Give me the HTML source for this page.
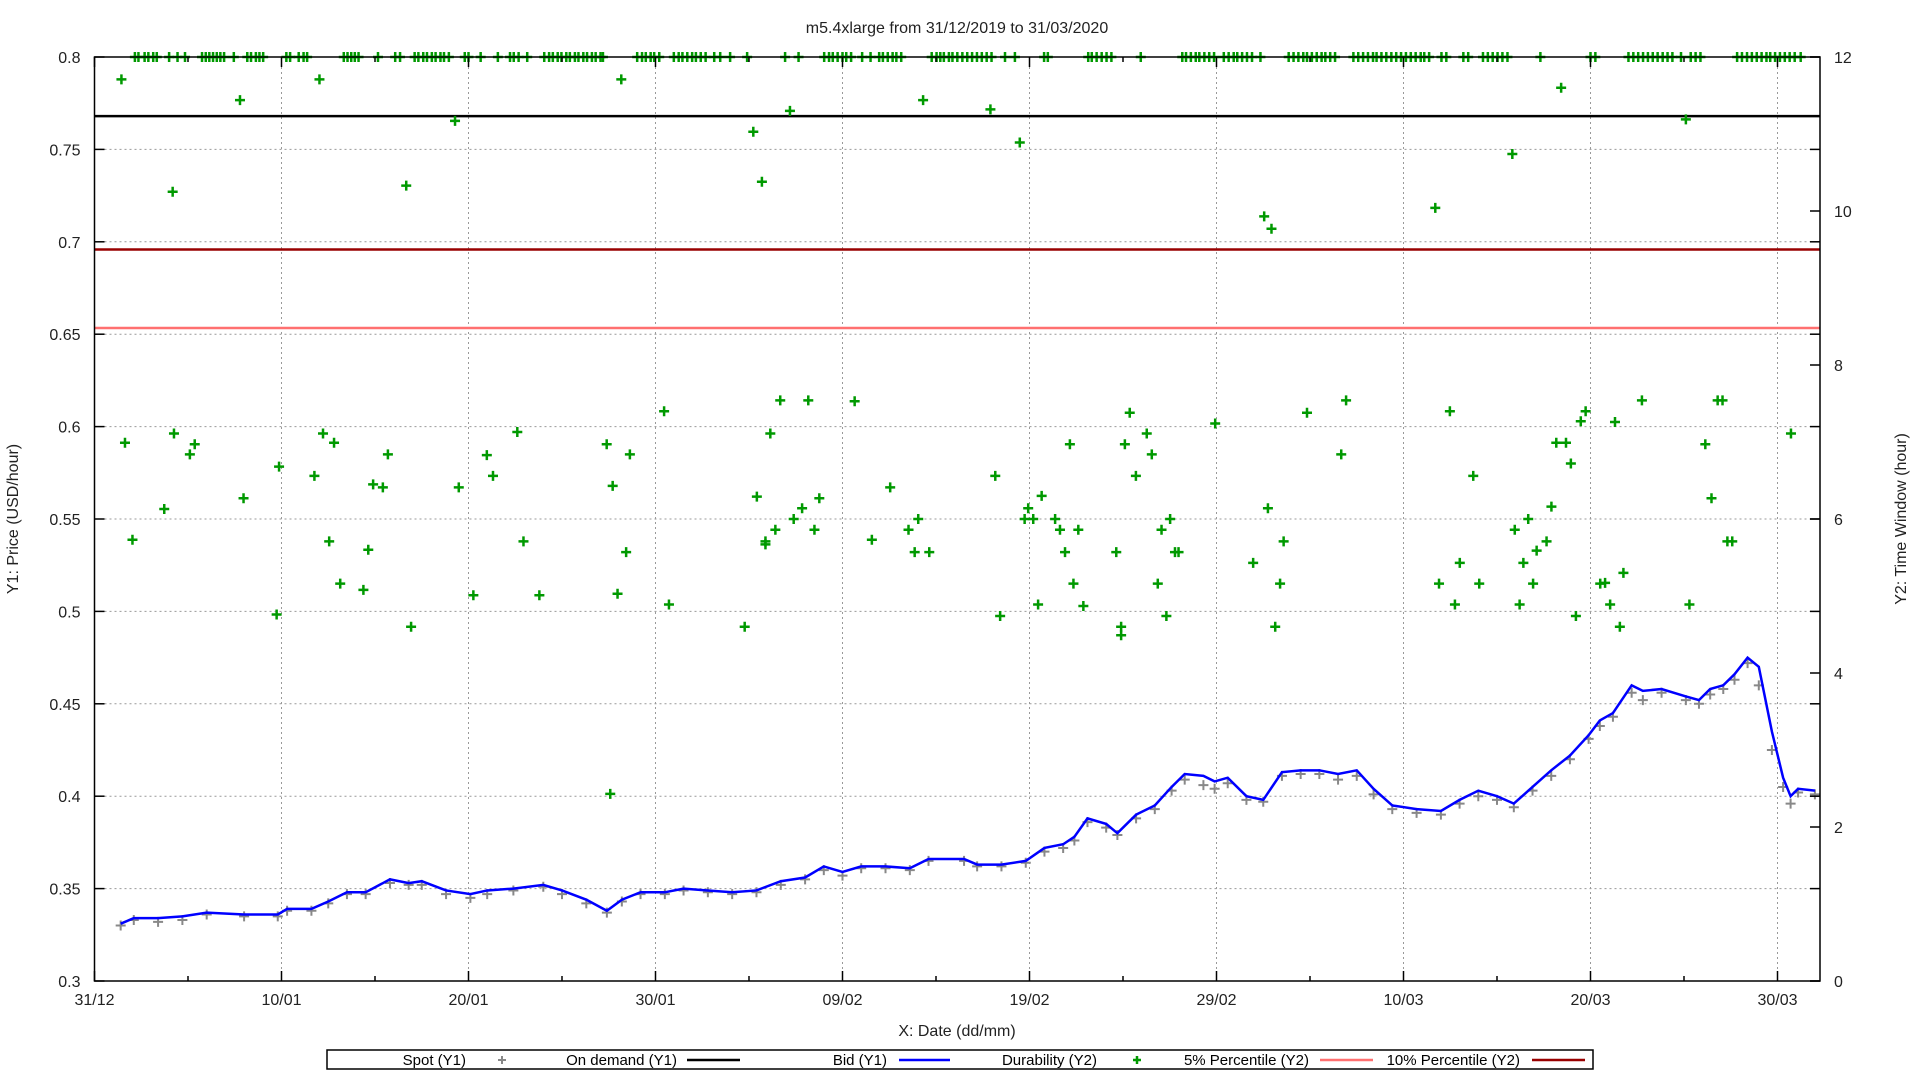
<!DOCTYPE html>
<html><head><meta charset="utf-8">
<style>
html,body{margin:0;padding:0;background:#fff;width:1920px;height:1080px;overflow:hidden;}
svg{display:block;font-family:"Liberation Sans",sans-serif;}
</style></head>
<body>
<svg id="chart" width="1920" height="1080" viewBox="0 0 1920 1080" xmlns="http://www.w3.org/2000/svg">
<text x="957" y="33" font-size="16" text-anchor="middle" fill="#222">m5.4xlarge from 31/12/2019 to 31/03/2020</text>
<text x="957" y="1036" font-size="16" text-anchor="middle" fill="#222">X: Date (dd/mm)</text>
<text transform="translate(18,519) rotate(-90)" font-size="16" text-anchor="middle" fill="#222">Y1: Price (USD/hour)</text>
<text transform="translate(1906,519) rotate(-90)" font-size="16" text-anchor="middle" fill="#222">Y2: Time Window (hour)</text>
<g id="grid"></g>
<g id="lines"></g>
<g id="spot"></g>
<g id="bid"></g>
<g id="dur"></g>
<g id="axes"></g>
<g id="legend">
  <rect x="327" y="1050" width="1266" height="19" fill="#fff" stroke="#000" stroke-width="1.5"/>
  <text x="466" y="1065" font-size="15" text-anchor="end">Spot (Y1)</text>
  <text x="677" y="1065" font-size="15" text-anchor="end">On demand (Y1)</text>
  <line x1="687" y1="1060" x2="740" y2="1060" stroke="#000" stroke-width="2.5"/>
  <text x="887" y="1065" font-size="15" text-anchor="end">Bid (Y1)</text>
  <line x1="899" y1="1060" x2="950" y2="1060" stroke="#0000ff" stroke-width="2.5"/>
  <text x="1097" y="1065" font-size="15" text-anchor="end">Durability (Y2)</text>
  <text x="1309" y="1065" font-size="15" text-anchor="end">5% Percentile (Y2)</text>
  <line x1="1320" y1="1060" x2="1373" y2="1060" stroke="#ff7070" stroke-width="2.5"/>
  <text x="1520" y="1065" font-size="15" text-anchor="end">10% Percentile (Y2)</text>
  <line x1="1532" y1="1060" x2="1585" y2="1060" stroke="#990000" stroke-width="2.5"/>
</g>
</svg>
<script>
// ---- data ----
const xTickLabels = ["31/12","10/01","20/01","30/01","09/02","19/02","29/02","10/03","20/03","30/03"];
const y1Ticks = [0.3,0.35,0.4,0.45,0.5,0.55,0.6,0.65,0.7,0.75,0.8];
const y1TickLabels = ["0.3","0.35","0.4","0.45","0.5","0.55","0.6","0.65","0.7","0.75","0.8"];
const y2Ticks = [0,2,4,6,8,10,12];
const onDemand = 0.768;
const p5Hours = 8.48;
const p10Hours = 9.50;
const bidDays = [1.4,2.1,3.4,4.7,6.0,8.0,9.8,10.3,11.6,12.5,13.5,14.5,15.8,16.8,17.5,18.8,20.1,21.0,22.4,24.0,25.0,26.3,27.4,28.2,29.2,30.5,31.5,32.8,34.1,35.4,36.7,38.0,39.0,40.0,41.0,42.3,43.6,44.6,46.5,47.2,48.5,49.8,50.8,51.8,52.4,53.1,54.1,54.7,55.7,56.7,57.6,58.3,59.3,59.9,60.6,61.6,62.5,63.5,64.5,65.5,66.5,67.5,68.4,69.4,70.7,72.0,73.0,74.0,75.0,75.9,76.9,77.9,78.9,79.9,80.5,81.2,82.2,82.8,83.8,85.1,85.8,86.4,87.1,87.7,88.4,89.0,89.7,90.3,90.7,91.1,92.0];
const bidValues = [0.331,0.334,0.334,0.335,0.337,0.336,0.336,0.339,0.339,0.343,0.348,0.348,0.355,0.353,0.354,0.349,0.347,0.349,0.350,0.352,0.349,0.344,0.338,0.344,0.348,0.348,0.350,0.349,0.348,0.349,0.354,0.356,0.362,0.359,0.362,0.362,0.361,0.366,0.366,0.363,0.363,0.365,0.372,0.374,0.378,0.388,0.385,0.380,0.390,0.395,0.405,0.412,0.411,0.408,0.410,0.400,0.398,0.413,0.414,0.414,0.412,0.414,0.404,0.395,0.393,0.392,0.398,0.403,0.400,0.396,0.405,0.414,0.422,0.433,0.441,0.445,0.460,0.457,0.458,0.454,0.452,0.458,0.460,0.466,0.475,0.470,0.435,0.410,0.400,0.404,0.403];
const spotDays = [1.4,2.1,3.4,4.7,6.0,8.0,9.8,10.3,11.6,12.5,13.5,14.5,15.8,16.8,17.5,18.8,20.1,21.0,22.4,24.0,25.0,26.3,27.4,28.2,29.2,30.5,31.5,32.8,34.1,35.4,36.7,38.0,39.0,40.0,41.0,42.3,43.6,44.6,46.5,47.2,48.5,49.8,50.8,51.8,52.4,53.1,54.1,54.7,55.7,56.7,57.6,58.3,59.3,59.9,60.6,61.6,62.5,63.5,64.5,65.5,66.5,67.5,68.4,69.4,70.7,72.0,73.0,74.0,75.0,75.9,76.9,77.9,78.9,79.9,80.5,81.2,82.2,82.8,83.8,85.1,85.8,86.4,87.1,87.7,88.4,89.0,89.7,90.3,90.7,91.1,92.0];
const spotValues = [0.330,0.333,0.332,0.333,0.336,0.335,0.335,0.338,0.338,0.342,0.347,0.347,0.353,0.352,0.352,0.347,0.345,0.347,0.349,0.351,0.347,0.342,0.337,0.343,0.347,0.347,0.349,0.348,0.347,0.348,0.352,0.355,0.360,0.357,0.361,0.361,0.360,0.365,0.365,0.362,0.362,0.364,0.370,0.372,0.376,0.386,0.383,0.379,0.388,0.393,0.403,0.409,0.406,0.404,0.407,0.398,0.397,0.411,0.412,0.412,0.409,0.411,0.401,0.393,0.391,0.390,0.396,0.400,0.398,0.394,0.403,0.411,0.420,0.431,0.438,0.443,0.456,0.452,0.456,0.452,0.450,0.455,0.458,0.463,0.472,0.460,0.425,0.405,0.396,0.402,0.401];
const durMaxDays = [2.16,2.35,2.68,2.88,3.14,3.33,3.99,4.44,4.84,5.75,5.95,6.14,6.34,6.54,6.73,6.93,7.45,8.17,8.37,8.63,8.82,9.02,10.26,10.46,10.92,11.18,11.37,13.33,13.53,13.73,13.92,14.12,15.16,16.08,16.34,17.12,17.32,17.58,17.78,18.04,18.24,18.50,18.69,18.95,19.80,20.00,20.65,21.57,22.22,22.42,22.68,23.14,24.05,24.31,24.51,24.77,24.97,25.23,25.42,25.69,25.88,26.14,26.34,26.60,26.80,27.06,27.19,29.02,29.28,29.48,29.74,29.93,30.20,30.98,31.24,31.44,31.70,31.96,32.16,32.42,32.68,33.14,33.46,33.99,34.90,36.93,37.65,39.02,39.28,39.48,39.74,40.00,40.20,40.46,41.05,41.50,41.96,42.16,42.42,42.68,42.88,43.14,44.77,45.03,45.23,45.42,45.69,45.88,46.14,46.41,46.67,46.93,47.19,47.45,47.71,47.97,48.69,49.22,50.78,50.98,53.14,53.33,53.59,53.86,54.12,54.38,55.95,58.17,58.37,58.63,58.89,59.08,59.35,59.61,59.87,60.39,60.65,60.92,61.11,61.37,61.63,61.90,62.35,63.86,64.12,64.38,64.64,64.84,65.10,65.36,65.62,65.82,66.08,66.34,67.32,67.58,67.84,68.10,68.37,68.56,68.82,69.08,69.35,69.61,69.87,70.13,70.39,70.65,70.92,71.11,71.37,72.03,72.29,73.20,73.46,74.25,74.51,74.77,75.03,75.29,75.56,77.32,80.00,80.26,82.03,82.29,82.55,82.81,83.07,83.33,83.59,83.86,84.12,84.38,84.84,85.36,85.62,85.88,87.84,88.10,88.37,88.63,88.89,89.15,89.41,89.61,89.87,90.13,90.39,90.65,90.92,91.24];
const durMaxHours = 12;
const durDays = [1.44,1.63,2.03,3.73,4.18,4.25,5.10,5.36,7.78,7.97,9.87,9.74,11.76,12.03,12.22,12.55,12.81,13.14,14.38,14.64,14.90,15.42,15.69,16.67,16.93,19.28,19.48,20.26,20.98,21.31,22.61,22.94,23.79,27.39,27.58,27.71,27.97,28.17,28.43,28.63,30.46,30.72,34.77,35.23,35.42,35.69,35.88,35.88,36.14,36.41,36.67,37.19,37.39,37.84,38.17,38.50,38.76,40.65,41.57,42.55,43.53,43.86,44.05,44.31,44.64,47.91,48.17,48.43,49.48,49.74,49.93,50.20,50.46,50.65,51.37,51.63,51.90,52.16,52.35,52.61,52.88,54.64,54.90,54.90,55.10,55.36,55.69,56.27,56.54,56.86,57.06,57.32,57.52,57.78,57.97,59.93,61.96,62.55,62.75,62.94,63.14,63.40,63.59,64.84,66.67,66.93,71.70,71.90,72.48,72.75,73.01,73.73,74.05,75.82,75.95,76.21,76.41,76.67,76.93,77.12,77.65,77.91,78.17,78.43,78.69,78.95,79.22,79.48,79.74,80.52,80.78,81.05,81.31,81.57,81.76,82.75,85.10,85.29,86.14,86.47,86.80,87.06,87.32,87.58,90.72];
const durHours = [11.71,6.99,5.73,6.13,10.25,7.11,6.84,6.97,11.44,6.27,6.68,4.76,6.56,11.71,7.11,5.71,6.99,5.16,5.08,5.60,6.45,6.41,6.84,10.33,4.60,11.17,6.41,5.01,6.83,6.56,7.13,5.71,5.01,6.97,2.43,6.43,5.03,11.71,5.57,6.84,7.40,4.89,4.60,11.03,6.29,10.38,5.71,5.67,7.11,5.86,7.54,11.30,6.00,6.14,7.54,5.86,6.27,7.53,5.73,6.41,5.86,5.57,6.00,11.44,5.57,11.32,6.56,4.74,10.89,6.00,6.14,6.00,4.89,6.30,6.00,5.86,5.57,6.97,5.16,5.86,4.87,5.57,4.60,4.49,6.97,7.38,6.56,7.11,6.84,5.16,5.86,4.74,6.00,5.57,5.57,7.24,5.43,9.93,6.14,9.77,4.60,5.16,5.71,7.38,6.84,7.54,10.04,5.16,7.40,4.89,5.43,6.56,5.16,10.74,5.86,4.89,5.43,6.00,5.16,5.59,5.71,6.16,6.99,11.60,6.99,6.72,4.74,7.27,7.40,5.16,5.17,4.89,7.26,4.60,5.30,7.54,11.19,4.89,6.97,6.27,7.54,7.54,5.71,5.71,7.11];

// ---- axis functions ----
const L=94.5,R=1820,T=57,B=981,DAYPX=18.7;
const xS=d=>L+d*DAYPX;
const y1S=v=>B-(v-0.3)/0.5*(B-T);
const y2S=h=>B-h/12*(B-T);
const NS="http://www.w3.org/2000/svg";
function mk(parent,tag,attrs){const e=document.createElementNS(NS,tag);for(const k in attrs)e.setAttribute(k,attrs[k]);document.getElementById(parent).appendChild(e);return e;}
function plus(parent,x,y,s,color,w){
  return mk(parent,'path',{d:`M${x-s} ${y}H${x+s}M${x} ${y-s}V${y+s}`,stroke:color,'stroke-width':w,fill:'none'});
}

// grid
xTickLabels.forEach((lab,i)=>{
  const x=xS(i*10);
  if(i>0){const g=mk('grid','line',{x1:x,y1:T,x2:x,y2:B,stroke:'#999','stroke-width':1,'stroke-dasharray':'2,3'});
  
  }
  const t=mk('axes','text',{x:x,y:B+24,'font-size':16,'text-anchor':'middle',fill:'#222'});
  
  
  t.textContent=lab;
  mk('axes','line',{x1:x,y1:B,x2:x,y2:B-10,stroke:'#000','stroke-width':1.5});
  mk('axes','line',{x1:x,y1:T,x2:x,y2:T+10,stroke:'#000','stroke-width':1.5});
  const xm=xS(i*10+5);
  if(xm<R){mk('axes','line',{x1:xm,y1:B,x2:xm,y2:B-5,stroke:'#000','stroke-width':1.5});
  mk('axes','line',{x1:xm,y1:T,x2:xm,y2:T+5,stroke:'#000','stroke-width':1.5});}
});
y1Ticks.forEach((v,i)=>{
  const y=y1S(v);
  if(i>0&&i<y1Ticks.length-1){const g=mk('grid','line',{x1:L,y1:y,x2:R,y2:y,stroke:'#999','stroke-width':1,'stroke-dasharray':'2,3'});
  
  }
  mk('axes','line',{x1:L,y1:y,x2:L+10,y2:y,stroke:'#000','stroke-width':1.5});
  mk('axes','line',{x1:R,y1:y,x2:R-10,y2:y,stroke:'#000','stroke-width':1.5});
  const t=mk('axes','text',{x:L-14,y:y+6,'font-size':16,'text-anchor':'end',fill:'#222'});
  
  
  t.textContent=y1TickLabels[i];
});
y2Ticks.forEach(h=>{
  const y=y2S(h);
  mk('axes','line',{x1:R,y1:y,x2:R-10,y2:y,stroke:'#000','stroke-width':1.5});
  const t=mk('axes','text',{x:R+14,y:y+6,'font-size':16,'text-anchor':'start',fill:'#222'});
  
  
  t.textContent=String(h);
});
const frame=mk('axes','rect',{x:L,y:T,width:R-L,height:B-T,fill:'none',stroke:'#000','stroke-width':1.5});



// reference lines
const od=mk('lines','line',{x1:L,y1:y1S(onDemand),x2:R,y2:y1S(onDemand),stroke:'#000','stroke-width':2.5});


const p10=mk('lines','line',{x1:L,y1:y2S(p10Hours),x2:R,y2:y2S(p10Hours),stroke:'#990000','stroke-width':2.5});


const p5=mk('lines','line',{x1:L,y1:y2S(p5Hours),x2:R,y2:y2S(p5Hours),stroke:'#ff7070','stroke-width':2.5});



// spot
spotDays.forEach((d,i)=>{
  const p=plus('spot',xS(d),y1S(spotValues[i]),5,'#888',2);
  
  
});
// bid
const bp=mk('bid','polyline',{points:bidDays.map((d,i)=>xS(d)+','+y1S(bidValues[i])).join(' '),fill:'none',stroke:'#0000ff','stroke-width':2.5});


// durability
durMaxDays.forEach(d=>{
  const p=plus('dur',xS(d),y2S(durMaxHours),5,'#009900',2.5);
  
  
});
durDays.forEach((d,i)=>{
  const p=plus('dur',xS(d),y2S(durHours[i]),5,'#009900',2.5);
  
  
});
// legend markers
const ls=plus('legend',502,1060,4,'#888',2);


const ld=plus('legend',1137,1060,4,'#009900',2.5);


</script>
</body></html>
